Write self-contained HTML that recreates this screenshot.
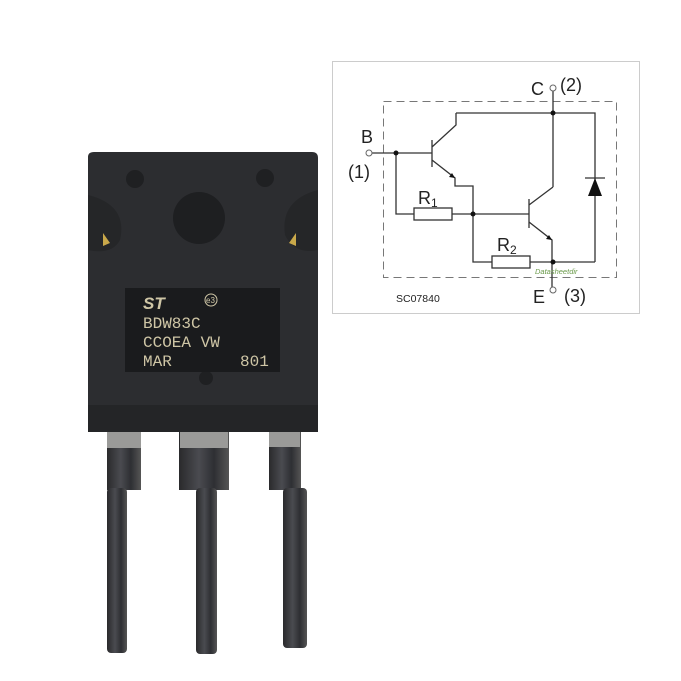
<!DOCTYPE html><html><head><style>body{margin:0;background:#fff;width:681px;height:681px;position:relative;overflow:hidden;font-family:"Liberation Sans",sans-serif}
.a{position:absolute}</style></head><body>
<svg width="681" height="681" class="a" style="left:0;top:0">
<defs><linearGradient id="m" x1="0" x2="1"><stop offset="0" stop-color="#2a2a2c"/><stop offset=".4" stop-color="#4a4b50"/><stop offset=".7" stop-color="#2e2f33"/><stop offset="1" stop-color="#555"/></linearGradient></defs>
<g fill="url(#m)">
<rect x="107" y="430" width="34" height="60"/><rect x="107" y="488" width="20" height="165" rx="4"/>
<rect x="179" y="428" width="50" height="62"/><rect x="196" y="488" width="21" height="166" rx="4"/>
<rect x="269" y="428" width="32" height="62"/><rect x="283" y="488" width="24" height="160" rx="4"/>
</g>
<g fill="#9a9a98"><rect x="107" y="432" width="34" height="16"/><rect x="180" y="430" width="48" height="18"/><rect x="269" y="430" width="31" height="17"/></g>
<path d="M88 157 Q88 152 94 152 L312 152 Q318 152 318 158 L318 432 L88 432 Z" fill="#2c2d30"/>
<rect x="88" y="405" width="230" height="27" fill="#242527"/>
<circle cx="199" cy="218" r="26" fill="#1e1f21"/>
<circle cx="135" cy="179" r="9" fill="#1f2022"/><circle cx="265" cy="178" r="9" fill="#1f2022"/>
<path d="M88 195 Q128 205 120 240 Q112 255 88 250 Z" fill="#252628"/>
<path d="M318 190 Q280 200 285 235 Q295 255 318 250 Z" fill="#252628"/>
<path d="M103 233 l7 10 -7 3z" fill="#c9a84a"/><path d="M296 233 l-7 10 7 3z" fill="#c9a84a"/>
<circle cx="206" cy="378" r="7" fill="#1f2022"/>
<rect x="125" y="288" width="155" height="84" fill="#1a1b1d"/>
<g font-family="Liberation Mono,monospace" fill="#cfc6a6" font-size="16">
<text x="143" y="328">BDW83C</text><text x="143" y="347">CCOEA VW</text><text x="143" y="366">MAR</text><text x="240" y="366">801</text></g>
<text x="143" y="309" fill="#cfc6a6" font-size="17" font-weight="bold" font-style="italic">ST</text>
<circle cx="211" cy="300" r="6" fill="none" stroke="#cfc6a6"/><text x="206" y="303" font-size="8" fill="#cfc6a6">e3</text>
<rect x="332.5" y="61.5" width="307" height="252" fill="#fff" stroke="#ccc"/>
<rect x="383.5" y="101.5" width="233" height="176" fill="none" stroke="#777" stroke-dasharray="8,5"/>
<g stroke="#333" stroke-width="1.3" fill="none">
<path d="M553 91 V187 M456 113 H595 V262 M372 153 H432 M432 140 V167 M432 147 L456 125 V113 M432 160 L455 178 V186 H473 V262 H492 M396 153 V214 H414 M452 214 H529 M529 199 V228 M529 205 L553 187 M529 222 L552 240 V287 M530 262 H595 M585 178 H605"/>
<rect x="414" y="208" width="38" height="12"/><rect x="492" y="256" width="38" height="12"/>
</g>
<g fill="#111"><circle cx="396" cy="153" r="2.5"/><circle cx="473" cy="214" r="2.5"/><circle cx="553" cy="113" r="2.5"/><circle cx="553" cy="262" r="2.5"/>
<path d="M595 178 L588 196 H602 Z"/><path d="M455 178 l-6 -1 3 -4z"/><path d="M552 240 l-6 -1 3 -4z"/></g>
<g fill="#fff" stroke="#666"><circle cx="553" cy="88" r="3"/><circle cx="369" cy="153" r="3"/><circle cx="553" cy="290" r="3"/></g>
<g font-size="18" fill="#222"><text x="531" y="95">C</text><text x="560" y="91">(2)</text><text x="361" y="143">B</text><text x="348" y="178">(1)</text>
<text x="418" y="204">R</text><text x="497" y="251">R</text><text x="533" y="303">E</text><text x="564" y="302">(3)</text></g>
<g font-size="12" fill="#222"><text x="431" y="207">1</text><text x="510" y="254">2</text></g>
<text x="396" y="302" font-size="10.5" fill="#222">SC07840</text>
<text x="535" y="274" font-size="7.5" fill="#6a9a4a" font-style="italic">Datasheetdir</text>
</svg>
</body></html>
